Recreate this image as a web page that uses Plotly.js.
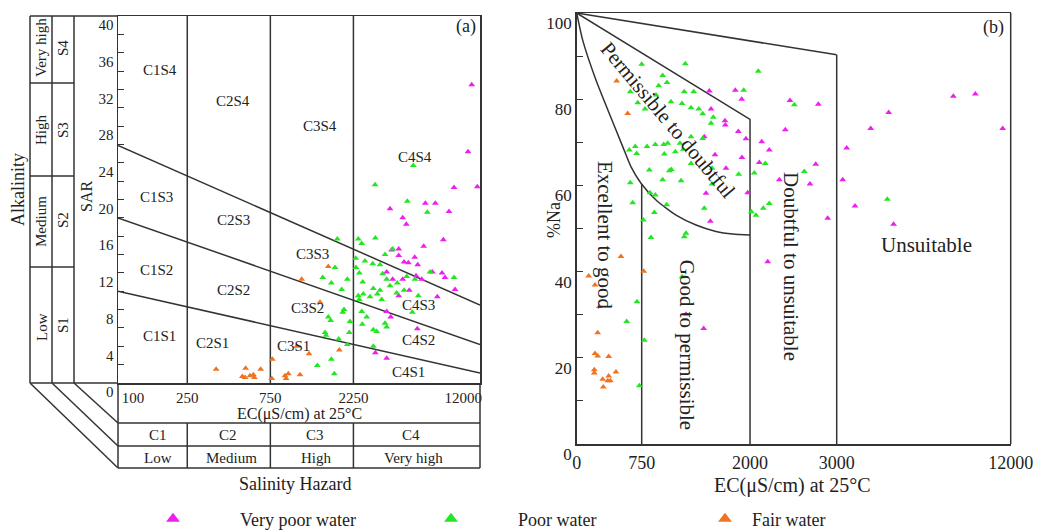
<!DOCTYPE html>
<html><head><meta charset="utf-8">
<script src="https://cdn.plot.ly/plotly-3.0.1.min.js"></script>
<style>html,body{margin:0;padding:0;background:#fff}</style>
</head><body><div id="chart" style="width:1037px;height:531px"></div>
<script>
// ---------- Panel (a): SAR vs EC (US salinity diagram) ----------
const aVeryPoorEC  = [10755,10240,8511,11580,3650,5823,6645,7964,4317,4528,7389,5700,3729,4095,4095,5061,4393,4649,5266,3494,6386,7262,5149,7557,4317,5551,3782,8625,6823,4095,4711,3494,3684,5238,3006,3494];
const aVeryPoorSAR = [32.5,25.2,21.3,21.4,19.0,19.6,19.6,18.7,18.0,17.3,15.6,14.9,14.5,14.6,13.9,13.7,13.2,13.1,12.9,12.1,12.1,12.0,11.7,11.5,11.3,11.3,11.3,10.2,9.4,9.5,10.1,7.8,7.2,5.9,3.3,2.7];
const aPoorEC  = [4968,2994,4589,5980,1818,2400,2510,3006,3782,3417,2319,2622,2904,3198,1764,2328,2432,1499,1680,2075,1927,2544,3314,3494,2927,3198,3650,4019,4552,5081,6194,8511,2400,2564,2802,3086,3271,3988,4393,5308,2432,1987,1953,1614,1666,2151,2510,2682,2530,2131,2927,3062,3417,3494,4903,1545,1566,1852,2075,2927,1396,1680,1748];
const aPoorSAR = [23.7,21.6,19.8,18.6,15.7,15.7,15.2,15.8,14.6,14.0,13.6,13.3,13.0,12.9,12.6,12.6,12.0,11.5,10.9,11.3,10.2,11.0,11.9,11.3,10.3,10.1,10.6,10.9,11.6,11.3,12.1,11.5,9.5,9.7,9.4,9.7,9.1,9.8,10.1,9.5,9.1,8.0,7.7,7.2,6.8,6.7,7.8,7.2,6.4,5.5,5.8,5.6,6.5,6.1,7.7,5.5,5.2,4.8,4.2,4.0,1.9,2.6,1.0];
const aFairEC  = [366,541,660,518,599,764,910,951,1110,537,607,923,573,770,1063,1251,1867,1446,1135,1614];
const aFairSAR = [1.5,1.6,1.5,0.7,0.9,0.5,0.8,1.0,0.9,0.6,0.6,0.5,0.8,2.6,4.0,3.2,3.6,8.8,11.3,12.7];

// class boundaries of panel (a)
const aSalinityBounds = [250, 750, 2250];          // C1|C2|C3|C4 (µS/cm)
const aLineEC  = [100, 12000];
const aS1S2    = [10.0, 1.1];
const aS2S3    = [18.0, 4.2];
const aS3S4    = [25.9, 8.5];
const aXTicks  = [100, 250, 750, 2250, 12000];
const aXTickText = ['\u00a0\u00a0\u00a0\u00a0\u00a0\u00a0\u00a0\u00a0100', '250', '750', '2250', '12000\u00a0\u00a0\u00a0\u00a0\u00a0\u00a0\u00a0\u00a0\u00a0'];

// ---------- Panel (b): %Na vs EC (Wilcox diagram) ----------
const bVeryPoorEC = [1530,1830,1904,2461,1550,1711,1715,1865,1953,1472,2135,2222,2407,1596,1907,1723,2107,2338,1492,1973,1542,2788,2758,2692,2896,2204,1465,1261,9031,10172,11586,5690,4759,3517,3310,3947,5943];
const bVeryPoorNa = [81.9,82.1,80.0,79.7,77.7,75.0,74.0,72.5,70.8,71.3,70.1,68.2,72.9,67.1,66.5,64.0,65.3,61.3,58.2,58.3,51.7,78.8,64.9,60.3,52.4,42.3,26.8,30.1,80.7,81.2,73.2,76.9,73.2,68.7,61.3,55.2,51.0];
const bPoorEC = [750,1253,2095,992,618,946,1042,1241,1350,704,788,915,1088,1215,1319,1408,1454,1576,1927,2511,1550,1319,1454,607,676,692,811,907,1004,1050,1011,1138,1230,1192,1319,838,1069,1092,992,1204,1561,1561,1869,2049,2176,618,846,907,646,1038,1472,2015,2069,2153,2222,896,769,1261,1241,857,2626,1215,696,577,780,723,5619];
const bPoorNa = [88.1,88.2,86.5,85.5,81.7,83.1,83.9,81.7,81.7,79.2,77.7,81.0,79.4,79.0,78.0,77.7,76.6,75.8,82.1,78.7,74.4,71.3,70.9,68.2,69.0,67.4,69.0,69.5,69.5,69.8,67.3,67.8,68.4,69.8,65.1,63.6,63.4,63.7,61.3,61.1,64.0,60.3,62.6,62.9,65.1,60.6,58.3,57.8,56.0,55.5,54.7,53.9,53.1,54.7,55.8,53.7,52.0,48.9,48.1,47.9,63.2,38.8,33.0,28.4,24.1,13.5,56.8];
const bFairEC = [461,588,511,773,138,211,261,242,211,242,369,203,203,453,369,300,358,388,307];
const bFairNa = [84.2,76.7,43.5,40.1,39.0,36.9,31.9,25.8,21.0,20.4,20.3,17.2,16.5,16.7,15.8,15.0,14.7,14.7,13.2];

// class boundaries of panel (b)
const bTopEC = [0, 3000],            bTopNa = [100, 90.3];
const bUpperEC = [0, 2000, 2000],    bUpperNa = [100, 75.3, 0];
const bLowerEC = [0, 69, 223, 376, 531, 627, 742, 915, 1146, 1377, 1607, 1800, 2000];
const bLowerNa = [100, 93.7, 84.4, 76.7, 69.0, 64.3, 60.5, 56.6, 53.1, 50.8, 49.3, 48.7, 48.5];
const b750EC = [750, 750],           b750Na = [60.3, 0];
const bBreakEC = 3000;               // axis break: linear 0-3000 then compressed 3000-12000
const bXTicksLow = [0, 750, 2000], bXTicksHigh = [3000, 12000];

const seriesNames  = ['Very poor water', 'Poor water', 'Fair water'];
const seriesColors = ['#ee1fee', '#22e622', '#f0731f'];

// ---------- helpers ----------
const W = 1037, H = 531;
const PX = v => v / W, PY = v => 1 - v / H;
const LINE = '#333';

const traces = [];
const aSets = [[aVeryPoorEC, aVeryPoorSAR], [aPoorEC, aPoorSAR], [aFairEC, aFairSAR]];
const bSets = [[bVeryPoorEC, bVeryPoorNa], [bPoorEC, bPoorNa], [bFairEC, bFairNa]];
const legendIds = ['legend', 'legend2', 'legend3'];

function lineTrace(x, y, xa, ya, shape) {
  return {type:'scatter', mode:'lines', x:x, y:y, xaxis:xa, yaxis:ya, showlegend:false, hoverinfo:'skip',
          line:{color:LINE, width:1.5, shape: shape || 'linear', smoothing: 0.6}};
}
// panel (a) boundaries
aSalinityBounds.forEach(ec => traces.push(lineTrace([ec, ec], [0, 40], 'x', 'y')));
[aS1S2, aS2S3, aS3S4].forEach(s => traces.push(lineTrace(aLineEC, s, 'x', 'y')));
// panel (b) boundaries
traces.push(lineTrace(bTopEC, bTopNa, 'x2', 'y2'));
traces.push(lineTrace(bUpperEC, bUpperNa, 'x2', 'y2'));
traces.push(lineTrace(bLowerEC, bLowerNa, 'x2', 'y2', 'spline'));
traces.push(lineTrace(b750EC, b750Na, 'x2', 'y2'));

// points
aSets.forEach((s, i) => traces.push({
  type:'scatter', mode:'markers', x:s[0], y:s[1], xaxis:'x', yaxis:'y', name:seriesNames[i],
  legend:legendIds[i], legendgroup:'g'+i, showlegend:true, cliponaxis:false,
  marker:{symbol:'triangle-up', size:6, color:seriesColors[i], line:{width:0}}
}));
bSets.forEach((s, i) => {
  const lo = {x:[], y:[]}, hi = {x:[], y:[]};
  s[0].forEach((ec, k) => { const t = ec <= bBreakEC ? lo : hi; t.x.push(ec); t.y.push(s[1][k]); });
  [[lo,'x2'], [hi,'x3']].forEach(([d, xa]) => traces.push({
    type:'scatter', mode:'markers', x:d.x, y:d.y, xaxis:xa, yaxis:'y2', name:seriesNames[i],
    legend:legendIds[i], legendgroup:'g'+i, showlegend:false, cliponaxis:false,
    marker:{symbol:'triangle-up', size:6, color:seriesColors[i], line:{width:0}}
  }));
});

// ---------- decorative frame (paper pixels) ----------
const shapes = [];
function L(x0, y0, x1, y1) {
  shapes.push({type:'line', xref:'paper', yref:'paper', x0:PX(x0), y0:PY(y0), x1:PX(x1), y1:PY(y1), line:{color:LINE, width:1.5}});
}
// alkalinity columns
[30, 52, 74].forEach(x => L(x, 16, x, 383));
L(30, 16, 118, 16); L(30, 383, 118, 383);
[83, 176, 267].forEach(y => L(30, y, 74, y));
// perspective diagonals
L(30, 383, 118, 468); L(52, 383, 118, 446); L(74, 383, 118, 423);
// salinity boxes below panel (a)
[423, 446, 468].forEach(y => shapes.push({type:'line', xref:'x domain', x0:0, x1:1, yref:'paper', y0:PY(y), y1:PY(y), line:{color:LINE, width:1.5}}));
[0, 1].forEach(d => shapes.push({type:'line', xref:'x domain', x0:d, x1:d, yref:'paper', y0:PY(383), y1:PY(468), line:{color:LINE, width:1.5}}));
aSalinityBounds.forEach(ec => shapes.push({type:'line', xref:'x', x0:ec, x1:ec, yref:'paper', y0:PY(423), y1:PY(468), line:{color:LINE, width:1.5}}));
// panel (b): right frame and the 3000 boundary on the axis break
shapes.push({type:'line', xref:'x3 domain', x0:1, x1:1, yref:'y2 domain', y0:0, y1:1, line:{color:LINE, width:1.5}});
shapes.push({type:'line', xref:'x2 domain', x0:1, x1:1, yref:'y2', y0:0, y1:bTopNa[1], line:{color:LINE, width:1.5}});

// ---------- text ----------
const ann = [];
function T(text, x, y, size, angle) {
  ann.push({text:text, x:PX(x), y:PY(y), xref:'paper', yref:'paper', showarrow:false, textangle:angle||0,
            font:{size:size}, xanchor:'center', yanchor:'middle'});
}
T('(a)', 466, 27, 18); T('(b)', 993, 28, 18);
T('SAR', 86, 197, 16, -90); T('Alkalinity', 18, 190, 18, -90);
T('Very high', 41, 48, 15, -90); T('S4', 63, 48, 15, -90);
T('High', 41, 130, 15, -90);     T('S3', 63, 130, 15, -90);
T('Medium', 41, 222, 15, -90);   T('S2', 63, 220, 15, -90);
T('Low', 42, 327, 15, -90);      T('S1', 63, 325, 15, -90);
T('EC(μS/cm) at 25°C', 299, 414, 16);
T('C1', 158, 435, 15); T('C2', 228, 435, 15); T('C3', 315, 435, 15); T('C4', 411, 435, 15);
T('Low', 158, 458, 15); T('Medium', 231, 458, 15); T('High', 316, 458, 15); T('Very high', 413, 458, 15);
T('Salinity Hazard', 295, 484, 18);
T('%Na', 554, 220, 18, -90);
T('EC(μS/cm) at 25°C', 792, 485, 20);

// class labels of panel (a), placed in data space (log axis -> log10 position)
[['C1S4',174,34.1],['C2S4',458,30.7],['C3S4',1445,28.0],['C4S4',5080,24.6],
 ['C1S3',167,20.3],['C2S3',458,17.8],['C3S3',1318,14.1],['C4S3',5286,8.5],
 ['C1S2',167,12.3],['C2S2',458,10.1],['C3S2',1218,8.2],['C4S2',5286,4.7],
 ['C1S1',174,5.1],['C2S1',347,4.4],['C3S1',1012,4.0],['C4S1',4631,1.2]].forEach(l => ann.push({
  text:l[0], x:Math.log10(l[1]), y:l[2], xref:'x', yref:'y', showarrow:false, font:{size:15}}));
// class labels of panel (b)
[['Permissible to doubtful',1053,75.2,50,'x2'],['Excellent to good',327,48.5,90,'x2'],
 ['Good to permissible',1273,23.0,90,'x2'],['Doubtful to unsuitable',2473,41.3,90,'x2'],
 ['Unsuitable',7619,46.2,0,'x3']].forEach(l => ann.push({
  text:l[0], x:l[1], y:l[2], xref:l[4], yref:'y2', showarrow:false, textangle:l[3], font:{size:21}}));

const evenLabel = (v, step) => (v % step === 0 ? String(v) : '');
const aYVals = Array.from({length:21}, (_, i) => i * 2);
const bYVals = Array.from({length:11}, (_, i) => i * 10);

const legBase = {orientation:'h', xanchor:'left', y:PY(519), yanchor:'middle', font:{size:18},
                 itemsizing:'constant', bgcolor:'rgba(0,0,0,0)', itemclick:false, itemdoubleclick:false};
const axBase = {showgrid:false, zeroline:false, showline:true, linecolor:LINE, linewidth:1.5, fixedrange:true, ticklabeloverflow:'allow'};
const layout = {
  width:W, height:H, margin:{l:0, r:0, t:0, b:0, pad:0, autoexpand:false},
  paper_bgcolor:'#fff', plot_bgcolor:'#fff',
  font:{family:'"Liberation Serif", "Times New Roman", serif', color:'#222', size:15},
  showlegend:true,
  legend:Object.assign({}, legBase, {x:PX(106), itemwidth:124}),
  legend2:Object.assign({}, legBase, {x:PX(384), itemwidth:124}),
  legend3:Object.assign({}, legBase, {x:PX(698), itemwidth:44}),
  xaxis:Object.assign({}, axBase, {type:'log', domain:[PX(118), PX(480)], range:[2, Math.log10(12000)], anchor:'y', mirror:true,
          ticks:'', tickvals:aXTicks, ticktext:aXTickText, tickfont:{size:15}, ticklabelstandoff:0}),
  yaxis:Object.assign({}, axBase, {domain:[PY(383), PY(16)], range:[0, 40], anchor:'x', mirror:true,
          ticks:'inside', ticklen:6, tickcolor:LINE, tickvals:aYVals, ticktext:aYVals.map(v => evenLabel(v, 4)),
          tickfont:{size:15}, ticklabelshift:9}),
  xaxis2:Object.assign({}, axBase, {domain:[PX(576.7), PX(836.7)], range:[0, bBreakEC], anchor:'y2', mirror:true,
          ticks:'', tickvals:bXTicksLow, ticktext:bXTicksLow.map(String), tickfont:{size:18}, ticklabelstandoff:2}),
  xaxis3:Object.assign({}, axBase, {domain:[PX(836.7), PX(1010.7)], range:[bBreakEC, 12000], anchor:'y2', mirror:true,
          ticks:'', tickvals:bXTicksHigh, ticktext:bXTicksHigh.map(String), tickfont:{size:18}, ticklabelstandoff:2}),
  yaxis2:Object.assign({}, axBase, {domain:[PY(444), PY(13)], range:[0, 100], anchor:'x2',
          ticks:'inside', ticklen:6, tickcolor:LINE, tickvals:bYVals, ticktext:bYVals.map(v => evenLabel(v, 20)),
          tickfont:{size:17}, ticklabelshift:10}),
  shapes:shapes, annotations:ann
};
Plotly.newPlot('chart', traces, layout, {staticPlot:true, displayModeBar:false});
</script></body></html>
